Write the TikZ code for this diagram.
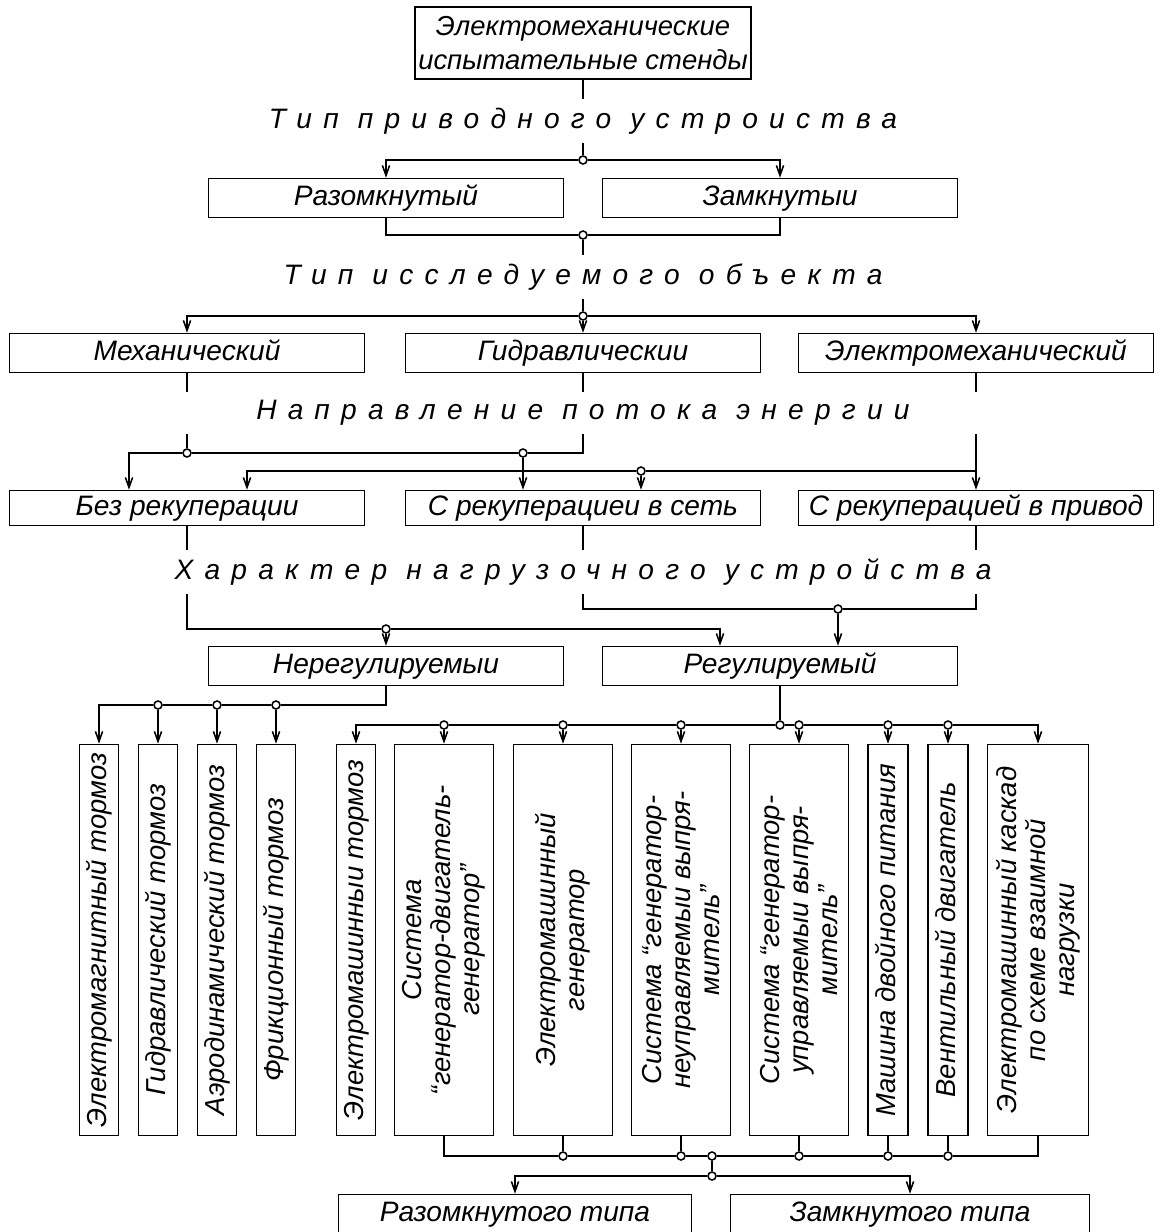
\documentclass[tikz,border=0pt]{standalone}
\usepackage{fontspec}
\setmainfont{Liberation Sans}
\usetikzlibrary{arrows.meta, calc, positioning}

\begin{document}
\begin{tikzpicture}[x=0.025cm, y=-0.025cm, line width=1.1pt, >={Straight Barb[length=0.25cm, width=0.18cm]},
    topbox/.style={draw, rectangle, inner sep=0pt, minimum width=8.4cm, minimum height=1.8cm, align=center, font=\itshape\fontsize{19.5}{24}\selectfont},
    hbox/.style={draw, rectangle, inner sep=0pt, minimum width=8.875cm, minimum height=0.975cm, text height=0.52cm, text depth=0.15cm, align=center, font=\itshape\fontsize{20}{24}\selectfont},
    vbox/.style={draw, rectangle, rotate=90, inner sep=0pt, minimum width=9.775cm, minimum height=0.975cm, align=center, font=\itshape\fontsize{19.5}{20.5}\selectfont},
    vone/.style={vbox, text height=0.5cm, text depth=0.14cm},
    heading/.style={inner xsep=0pt, inner ysep=0.2cm, font=\itshape\fontsize{20}{24}\selectfont\addfontfeature{LetterSpace=40}},
    junc/.style={circle, draw, fill=white, inner sep=0pt, minimum size=0.2cm}]
  \path[use as bounding box, clip] (0,0) rectangle (1173,1232);

  % Nodes
  \node[topbox] (stand) at (583,43) {Электромеханические\\испытательные стенды};
  \node[heading] (h1) at (583,121) {Тип приводного устроиства};
  \node[hbox] (razom) at (386,198) {Разомкнутый};
  \node[hbox] (zamk) at (780,198) {Замкнутыи};

  \node[heading] (h2) at (583,277) {Тип исследуемого объекта};
  \node[hbox] (mech) at (187,353) {Механический};
  \node[hbox] (hydr) at (583,353) {Гидравлическии};
  \node[hbox] (elmech) at (976,353) {Электромеханический};

  \node[heading] (h3) at (583,413) {Направление потока энергии};
  \node[hbox, minimum height=0.875cm] (bez) at (187,508) {Без рекуперации};
  \node[hbox, minimum height=0.875cm] (set) at (583,508) {С рекуперациеи в сеть};
  \node[hbox, minimum height=0.875cm] (priv) at (976,508) {С рекуперацией в привод};

  \node[heading] (h4) at (583,572) {Характер нагрузочного устройства};
  \node[hbox] (nereg) at (386,666) {Нерегулируемыи};
  \node[hbox] (reg) at (780,666) {Регулируемый};

  % Loads
  \node[vone] (b1) at (99,940) {Электромагнитный тормоз};
  \node[vone] (b2) at (158,940) {Гидравлический тормоз};
  \node[vone] (b3) at (217,940) {Аэродинамический тормоз};
  \node[vone] (b4) at (276,940) {Фрикционный тормоз};
  \node[vone] (b5) at (356,940) {Электромашинныи тормоз};
  \node[vbox, minimum height=2.475cm] (b6) at (444,940) {Система\\“генератор-двигатель-\\генератор”};
  \node[vbox, minimum height=2.475cm] (b7) at (563,940) {Электромашинный\\генератор};
  \node[vbox, minimum height=2.475cm] (b8) at (681,940) {Система “генератор-\\неуправляемыи выпря-\\митель”};
  \node[vbox, minimum height=2.475cm] (b9) at (799,940) {Система “генератор-\\управляемыи выпря-\\митель”};
  \node[vone, minimum height=1cm] (b10) at (888,940) {Машина двойного питания};
  \node[vone, minimum height=1cm] (b11) at (948,940) {Вентильный двигатель};
  \node[vbox, minimum height=2.525cm] (b12) at (1038,940) {Электромашинный каскад\\по схеме взаимной\\нагрузки};

  \node[hbox, minimum width=8.825cm] (razt) at (515,1214) {Разомкнутого типа};
  \node[hbox, minimum width=8.975cm] (zamt) at (910,1214) {Замкнутого типа};

  % Junctions
  \node[junc] (j1) at (583,160) {};
  \node[junc] (j2) at (583,235) {};
  \node[junc] (j3) at (583,316) {};
  \node[junc] (j4) at (187,453) {};
  \node[junc] (j5) at (523,453) {};
  \node[junc] (j6) at (641,471) {};
  \node[junc] (j7) at (386,629) {};
  \node[junc] (j8) at (838,609) {};
  \node[junc] (j9) at (158,705) {};
  \node[junc] (j10) at (217,705) {};
  \node[junc] (j11) at (276,705) {};
  \node[junc] (j12) at (780,725) {};
  \node[junc] (j13) at (444,725) {};
  \node[junc] (j14) at (563,725) {};
  \node[junc] (j15) at (681,725) {};
  \node[junc] (j16) at (799,725) {};
  \node[junc] (j17) at (888,725) {};
  \node[junc] (j18) at (948,725) {};
  \node[junc] (k1) at (563,1156) {};
  \node[junc] (k2) at (681,1156) {};
  \node[junc] (k3) at (712,1156) {};
  \node[junc] (k4) at (799,1156) {};
  \node[junc] (k5) at (888,1156) {};
  \node[junc] (k6) at (948,1156) {};
  \node[junc] (k7) at (712,1176) {};

  % Paths
  \draw (stand.south) -- (h1.north);
  \draw (h1.south) -- (j1);
  \draw[->] (j1) -| (razom.north);
  \draw[->] (j1) -| (zamk.north);

  \draw (razom) |- (j2);
  \draw (zamk) |- (j2);
  \draw (j2) -- (h2.north);
  \draw (h2.south) -- (j3);
  \draw[->] (j3) -| (mech.north);
  \draw[->] (j3) -- (hydr.north);
  \draw[->] (j3) -| (elmech.north);

  \draw (mech.south) -- (mech.south |- h3.north);
  \draw (hydr.south) -- (h3.north);
  \draw (elmech.south) -- (elmech.south |- h3.north);
  \draw (mech.south |- h3.south) -- (j4);
  \draw (h3.south) |- (j5);
  \draw (j5) -- (j4);
  \draw[->] (j4) -| ($(bez.north)+(-58,0)$);
  \draw[->] (j5) -- (j5 |- set.north);
  \draw[->] (elmech.south |- h3.south) -- (priv.north);
  \draw (j6) -- (j6 -| priv.north);
  \draw[->] (j6) -| ($(bez.north)+(60,0)$);
  \draw[->] (j6) -- (j6 |- set.north);

  \draw (bez.south) -- (bez.south |- h4.north);
  \draw (set.south) -- (h4.north);
  \draw (priv.south) -- (priv.south |- h4.north);
  \draw (bez.south |- h4.south) |- (j7);
  \draw[->] (j7) -- (nereg);
  \draw[->] (j7) -| ($(reg.north)+(-60,0)$);
  \draw (h4.south) |- (j8);
  \draw (j8) -| (priv.south |- h4.south);
  \draw[->] (j8) -- (j8 |- reg.north);

  \draw (nereg) |- (j11);
  \draw (j11) -- (j10);
  \draw (j10) -- (j9);
  \draw[->] (j9) -| (b1.east);
  \draw[->] (j9) -- (b2.east);
  \draw[->] (j10) -- (b3.east);
  \draw[->] (j11) -- (b4.east);

  \draw (reg) -- (j12);
  \draw[->] (j13) -| (b5.east);
  \draw (j13) -- (j14);
  \draw (j14) -- (j15);
  \draw (j15) -- (j12);
  \draw (j12) -- (j16);
  \draw (j16) -- (j17);
  \draw (j17) -- (j18);
  \draw[->] (j18) -| (b12.east);
  \draw[->] (j13) -- (b6.east);
  \draw[->] (j14) -- (b7.east);
  \draw[->] (j15) -- (b8.east);
  \draw[->] (j16) -- (b9.east);
  \draw[->] (j17) -- (b10.east);
  \draw[->] (j18) -- (b11.east);

  \draw (b6.west) |- (k1);
  \draw (b7.west) -- (k1);
  \draw (b8.west) -- (k2);
  \draw (b9.west) -- (k4);
  \draw (b10.west) -- (k5);
  \draw (b11.west) -- (k6);
  \draw (b12.west) |- (k6);
  \draw (k1) -- (k2);
  \draw (k2) -- (k3);
  \draw (k3) -- (k4);
  \draw (k4) -- (k5);
  \draw (k5) -- (k6);
  \draw (k3) -- (k7);
  \draw[->] (k7) -| (razt.north);
  \draw[->] (k7) -| (zamt.north);
\end{tikzpicture}
\end{document}
